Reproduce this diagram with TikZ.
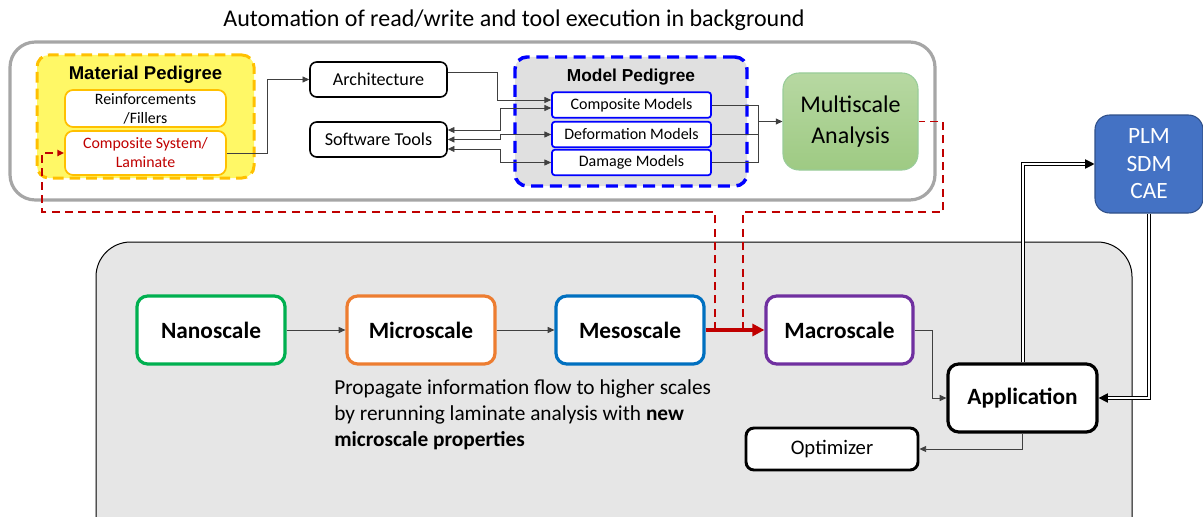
\documentclass[tikz,border=0pt]{standalone}
\usepackage{fontspec}
\setmainfont{Carlito}
\newfontfamily\arialfont{Liberation Sans}
\usetikzlibrary{arrows.meta}

\begin{document}
\begin{tikzpicture}[x=0.75pt,y=-0.75pt,
    >={Triangle[length=5pt,width=4.5pt]},
    every node/.style={inner sep=0pt,align=center},
    box/.style={draw,fill=white,rounded corners=5pt,line width=1.5pt},
    scalebox/.style={box,line width=2.4pt,rounded corners=8pt,minimum width=111pt,
        minimum height=51pt,font=\fontsize{17.5}{20}\selectfont\bfseries},
    matsub/.style={box,draw=matorange,line width=1.3pt,rounded corners=6pt,
        minimum width=120.75pt,font=\fontsize{11.9}{14.25}\selectfont},
    modelbox/.style={box,draw=modelblue,line width=1.3pt,rounded corners=2pt,
        minimum width=119.25pt,minimum height=19pt,font=\fontsize{12}{14}\selectfont},
    toolbox/.style={box,line width=1.2pt,rounded corners=5pt,minimum width=102.75pt,
        minimum height=26.25pt,font=\fontsize{13.6}{16}\selectfont},
    link/.style={draw=black!75,line width=0.6pt},
    feedback/.style={draw=backred,line width=1.4pt,dash pattern=on 6pt off 4pt},
    cloud/.style={draw=black,line width=0.75pt,double=white,double distance=1.5pt,
        -{Triangle[length=7pt,width=7pt]}}
]

    \definecolor{matorange}{HTML}{FFC000}
    \definecolor{matyellow}{RGB}{255,248,102}
    \definecolor{modelblue}{HTML}{0000FF}
    \definecolor{backred}{HTML}{C00000}
    \definecolor{lowgray}{HTML}{E6E6E6}
    \definecolor{nanocolor}{HTML}{00B050}
    \definecolor{microcolor}{HTML}{ED7D31}
    \definecolor{mesocolor}{HTML}{0070C0}
    \definecolor{macrocolor}{HTML}{7030A0}
    \definecolor{plmcolor}{HTML}{4472C4}

    \clip (0,0) rectangle (1203,517);

    \node[font=\fontsize{18}{21}\selectfont] (title) at (514,20)
        {Automation of read/write and tool execution in background};

    \draw[black!35,line width=2.4pt,rounded corners=19pt] (10,42) rectangle (935,200);
    \draw[black,line width=0.75pt,fill=lowgray,rounded corners=26pt] (96,242) rectangle (1132,560);

    % material pedigree
    \node[draw=matorange,fill=matyellow,line width=2.25pt,dash pattern=on 8pt off 4.5pt,
        rounded corners=9pt,minimum width=162.75pt,minimum height=92.25pt] (matped) at (145.5,116.5) {};
    \node[font=\arialfont\fontsize{13.9}{16}\selectfont\bfseries] (matlabel) at (145.5,75) {Material Pedigree};
    \node[matsub,minimum height=27.75pt] (reinf) at (145.5,108.5) {Reinforcements\\/Fillers};
    \node[matsub,minimum height=33pt,text=backred] (compsys) at (145.5,153) {Composite System/\\Laminate};

    \node[toolbox] (arch) at (378.5,79.5) {Architecture};
    \node[toolbox] (soft) at (378.5,139.5) {Software Tools};

    % model pedigree
    \node[draw=modelblue,fill=black!12,line width=2.6pt,dash pattern=on 9pt off 5pt,
        rounded corners=9pt,minimum width=174pt,minimum height=96.75pt] (modped) at (631,121.5) {};
    \node[font=\arialfont\fontsize{13}{16}\selectfont\bfseries] (modlabel) at (631,77) {Model Pedigree};
    \node[modelbox] (cmod) at (631.5,105) {Composite Models};
    \node[modelbox] (dmod) at (631.5,134.5) {Deformation Models};
    \node[modelbox] (dam) at (631.5,162.5) {Damage Models};

    \node[draw=green!50!black!40,top color={rgb,255:red,183;green,216;blue,162},
        bottom color={rgb,255:red,158;green,202;blue,131},line width=0.8pt,rounded corners=12pt,
        minimum width=101.25pt,minimum height=72.75pt,
        font=\fontsize{18}{23}\selectfont] (multi) at (850.5,121.5) {Multiscale\\Analysis};

    \node[draw=plmcolor!70!black,fill=plmcolor,text=white,line width=0.8pt,rounded corners=11pt,
        minimum width=81pt,minimum height=73.5pt,
        font=\fontsize{17.5}{20.6}\selectfont] (plm) at (1149,164) {PLM\\SDM\\CAE};

    % scales
    \node[scalebox,draw=nanocolor] (nano) at (211,330) {Nanoscale};
    \node[scalebox,draw=microcolor] (micro) at (421,330) {Microscale};
    \node[scalebox,draw=mesocolor] (meso) at (630,330) {Mesoscale};
    \node[scalebox,draw=macrocolor,minimum width=110.25pt] (macro) at (839.5,330) {Macroscale};
    \node[scalebox,draw=black,minimum width=111.75pt] (app) at (1022.5,398) {Application};
    \node[box,line width=2.2pt,rounded corners=6pt,minimum width=129pt,minimum height=31.5pt,
        font=\fontsize{15.5}{18}\selectfont] (opt) at (832,449) {Optimizer};

    \node[anchor=west,align=left,font=\fontsize{16}{19.5}\selectfont] (note) at (334,415)
        {Propagate information flow to higher scales\\
         by rerunning laminate analysis with \textbf{new}\\
         \textbf{microscale properties}};

    % connectors
    \draw[link,->] (compsys.east) -- ++(41,0) |- (arch.west);
    \draw[link,->] ([yshift=5pt]arch.east) -- ++(50,0) |- ([yshift=3.75pt]cmod.west);
    \draw[link,<->] ([yshift=7.1pt]soft.east) -- ++(53,0) |- ([yshift=-2.25pt]cmod.west);
    \draw[link,<->] (soft.east) -- ++(53,0) |- (dmod.west);
    \draw[link,<->] ([yshift=-7.1pt]soft.east) -- ++(53,0) |- (dam.west);

    \coordinate (mjoin) at (758,121.5);
    \draw[link] (cmod.east) -| (mjoin);
    \draw[link] (dam.east) -| (mjoin);
    \draw[link] (dmod.east) -- (dmod.east -| mjoin);
    \draw[link,->] (mjoin) -- (multi.west);

    \draw[link,->] (nano) -- (micro);
    \draw[link,->] (micro) -- (meso);
    \draw[backred,line width=2.4pt,-{Triangle[length=9pt,width=9pt]}] (meso) -- (macro);
    \draw[link,->] (macro.east) -- ++(18,0) |- (app.west);
    \draw[link,->] (app.south) |- (opt.east);

    \coordinate (backA) at (743,330);
    \coordinate (backB) at (715,330);
    \coordinate (backC) at (943,212);
    \draw[feedback] (backA) |- (backC) |- (multi.east);
    \draw[feedback,->] (backB) |- (42,212) |- (compsys.west);

    \draw[cloud] (app.north) |- (plm.west);
    \draw[cloud] (plm.south) |- (app.east);

\end{tikzpicture}
\end{document}
